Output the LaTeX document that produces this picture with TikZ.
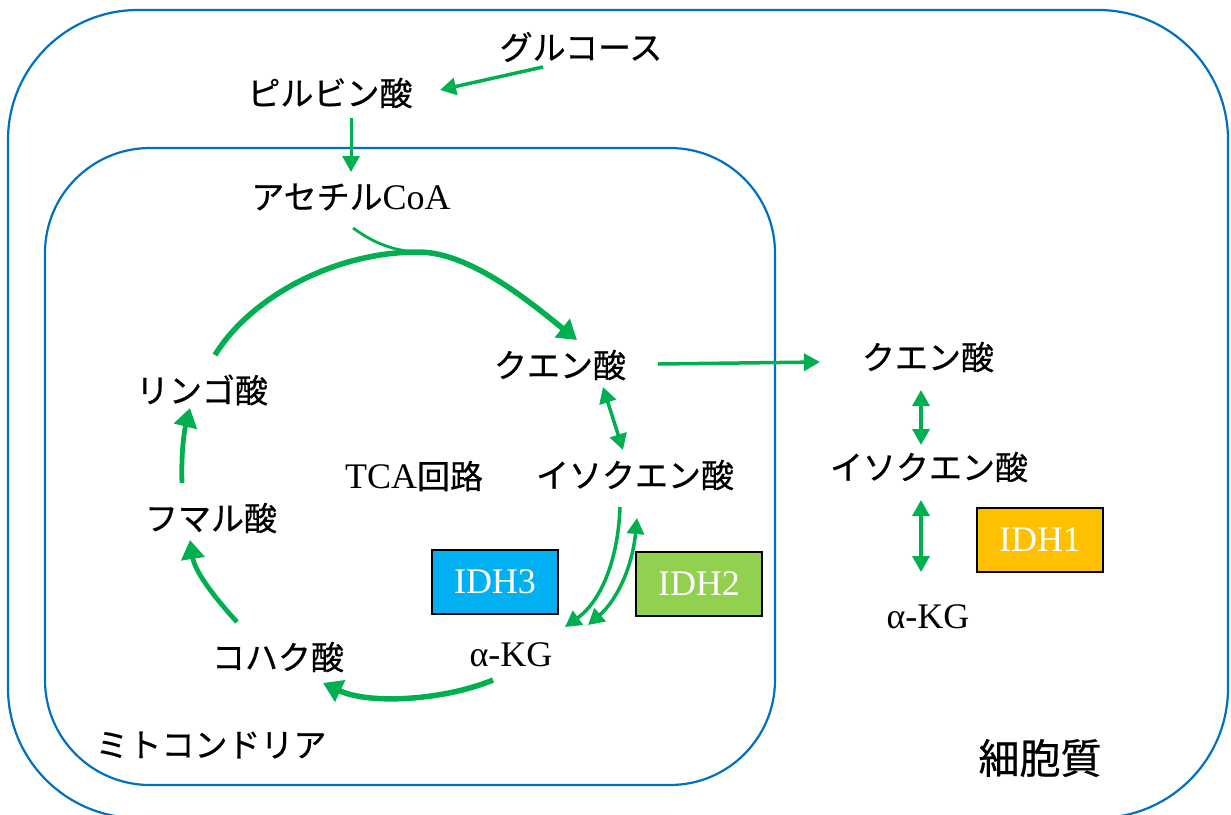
\documentclass[tikz,border=0pt]{standalone}
\usepackage{fontspec}
\setmainfont{Liberation Serif}
\newfontfamily\jp[FakeBold=0.6]{Noto Sans CJK JP}
\usetikzlibrary{arrows.meta}
\definecolor{grn}{HTML}{00B050}
\definecolor{bl}{HTML}{0070C0}
\definecolor{idhthree}{HTML}{00B0F0}
\definecolor{idhtwo}{HTML}{92D050}
\definecolor{idhone}{HTML}{FFC000}
\newcommand\latn[1]{{\rmfamily\fontsize{36}{42}\selectfont #1}}
\begin{document}
\begin{tikzpicture}[x=1pt,y=-1pt,
  jlab/.style={font=\jp\fontsize{33}{40}\selectfont, inner sep=0pt},
  llab/.style={font=\rmfamily\fontsize{36}{42}\selectfont, inner sep=0pt},
  enz/.style={draw=black, line width=1.5pt, minimum width=126pt, minimum height=64pt, text=white, font=\rmfamily\fontsize{36}{42}\selectfont, inner sep=0pt},
  bigarr/.style={draw=grn, line width=5.5pt, -{Triangle[length=19pt,width=23pt]}},
  smallarr/.style={draw=grn, line width=3.5pt, -{Triangle[length=16pt,width=17pt]}},
  botharr/.style={draw=grn, line width=3.5pt, {Triangle[length=16pt,width=17pt]}-{Triangle[length=16pt,width=17pt]}},
  cell/.style={draw=bl, line width=2.2pt}
]
\useasboundingbox (0,0) rectangle (1231,814);
% membranes
\draw[cell, rounded corners=130pt] (8,10) rectangle (1228,818);
\draw[cell, rounded corners=105pt] (45,148) rectangle (775,785);

% labels
\node[jlab] (glc) at (581,47) {グルコース};
\node[jlab] (pyr) at (330,93) {ピルビン酸};
\node[jlab] (acoa) at (351,197) {アセチル\latn{CoA}};
\node[jlab] (cit) at (560,365) {クエン酸};
\node[jlab] (icit) at (635,475) {イソクエン酸};
\node[llab] (akg) at (511,655) {α-KG};
\node[jlab] (suc) at (278,657) {コハク酸};
\node[jlab] (fum) at (211,518) {フマル酸};
\node[jlab] (mal) at (202,390) {リンゴ酸};
\node[jlab] (tca) at (414,476) {\latn{TCA}回路};
\node[jlab] (mito) at (211,745) {ミトコンドリア};
\node[jlab, font=\jp\fontsize{41}{48}\selectfont] (cyto) at (1040,758) {細胞質};
\node[jlab] (citc) at (928,357) {クエン酸};
\node[jlab] (icitc) at (929,467) {イソクエン酸};
\node[llab] (akgc) at (928,617) {α-KG};

% enzymes
\node[enz, fill=idhthree] (idh3) at (495,582) {IDH3};
\node[enz, fill=idhtwo] (idh2) at (699,584) {IDH2};
\node[enz, fill=idhone] (idh1) at (1040,540) {IDH1};

% connector end points
\coordinate (glcS) at (543,67);
\coordinate (pyrE) at (440,90);
\coordinate (pyrS) at (351,118);
\coordinate (acoaE) at (351,172);
\coordinate (acoaS) at (353,228);
\coordinate (topM) at (418,252);
\coordinate (malS) at (215,355);
\coordinate (citE) at (577,340);
\coordinate (citA) at (603,387);
\coordinate (icitA) at (623,450);
\coordinate (icitS) at (620,507);
\coordinate (akgE1) at (565,627);
\coordinate (icitB) at (637,518);
\coordinate (akgE2) at (588,625);
\coordinate (akgS) at (493,680);
\coordinate (sucE) at (323,683);
\coordinate (sucS) at (237,622);
\coordinate (fumE) at (190,540);
\coordinate (fumS) at (182,483);
\coordinate (malE) at (190,408);
\coordinate (citO) at (658,364);
\coordinate (citcE) at (820,362);
\coordinate (citcA) at (921,390);
\coordinate (icitcA) at (921,445);
\coordinate (icitcB) at (921,500);
\coordinate (akgcA) at (921,572);

% arrows
\draw[smallarr] (glcS) -- (pyrE);
\draw[smallarr, line width=3pt] (pyrS) -- (acoaE);
\draw[draw=grn, line width=2.8pt] (acoaS) .. controls (375,244) and (395,251) .. (topM);
\draw[bigarr] (malS) .. controls (250,298) and (333,252) .. (topM)
  .. controls (470,252) and (530,302) .. (citE);
\draw[botharr] (citA) -- (icitA);
\draw[smallarr] (icitS) .. controls (618,562) and (600,602) .. (akgE1);
\draw[botharr] (icitB) .. controls (632,570) and (615,602) .. (akgE2);
\draw[bigarr] (akgS) .. controls (445,700) and (370,705) .. (sucE);
\draw[bigarr, line width=4.8pt] (sucS) .. controls (215,598) and (195,572) .. (fumE);
\draw[bigarr, line width=4.8pt] (fumS) .. controls (181,455) and (184,432) .. (malE);
\draw[smallarr] (citO) -- (citcE);
\draw[botharr] (citcA) -- (icitcA);
\draw[botharr] (icitcB) -- (akgcA);
\end{tikzpicture}
\end{document}
